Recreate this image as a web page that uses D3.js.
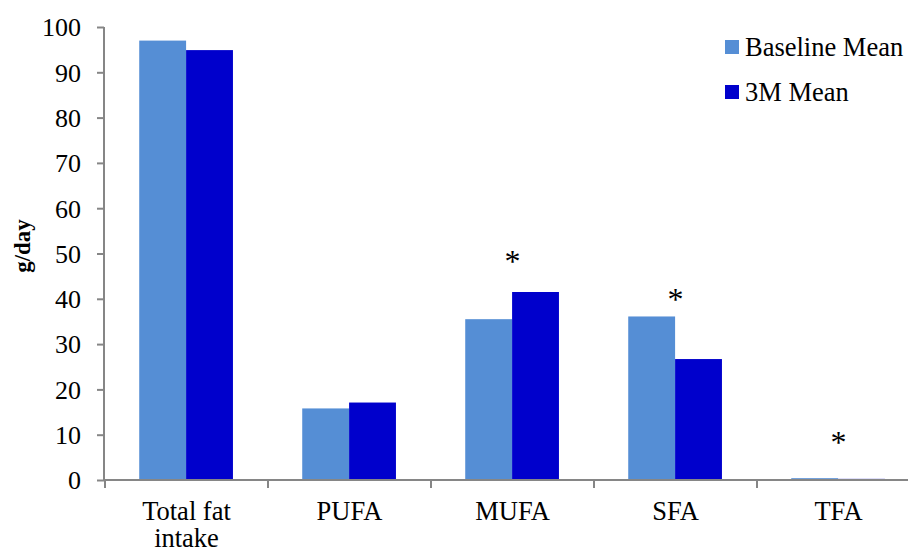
<!DOCTYPE html>
<html>
<head>
<meta charset="utf-8">
<script src="https://cdn.jsdelivr.net/npm/d3@7"></script>
<style>
  html, body { margin: 0; padding: 0; background: #fff; }
  svg { display: block; }
  text { font-family: "Liberation Serif", "Times New Roman", serif; fill: #000; }
</style>
</head>
<body>
<svg id="chart" width="908" height="552"></svg>
<script>
const categories = ["Total fat\nintake", "PUFA", "MUFA", "SFA", "TFA"];
const seriesNames = ["Baseline Mean", "3M Mean"];
const baselineMean = [97.0, 15.8, 35.5, 36.1, 0.4];
const threeMonthMean = [94.9, 17.1, 41.5, 26.7, 0.25];
const significance = [null, null, "*", "*", "*"];
const asteriskLevel = [null, null, 46.0, 37.5, 6.0];
const yTicks = [0, 10, 20, 30, 40, 50, 60, 70, 80, 90, 100];
const colors = ["#558ED5", "#0000CC"];

const svg = d3.select("#chart");
const x0 = d3.scaleBand().domain(categories).range([105, 920]).padding(0);
const bw = x0.bandwidth();
const x1 = d3.scaleBand().domain(seriesNames).range([bw * 0.21, bw * 0.785]).padding(0);
const y = d3.scaleLinear().domain([0, 100]).range([480, 27]);

const data = categories.map((c, i) => ({ cat: c, vals: [baselineMean[i], threeMonthMean[i]] }));

// bars
const groups = svg.append("g").selectAll("g").data(data).join("g")
  .attr("transform", d => `translate(${x0(d.cat)},0)`);
groups.selectAll("rect").data(d => d.vals.map((v, j) => ({ v, s: seriesNames[j], j })))
  .join("rect")
  .attr("x", d => x1(d.s))
  .attr("width", x1.bandwidth())
  .attr("y", d => y(d.v))
  .attr("height", d => y(0) - y(d.v))
  .attr("fill", d => colors[d.j]);

// y axis
const yAxis = svg.append("g").attr("transform", "translate(104,0)")
  .call(d3.axisLeft(y).tickValues(yTicks).tickSize(7).tickPadding(16).tickFormat(d3.format("d")));
yAxis.attr("font-family", null).attr("font-size", null);
yAxis.select(".domain").attr("stroke", "#868686").attr("stroke-width", 2).attr("d", `M0,${y(100)}V${y(0)}`);
yAxis.selectAll(".tick line").attr("stroke", "#868686").attr("stroke-width", 2);
yAxis.selectAll(".tick text").style("font-size", "26px").attr("dy", "0.34em");

// x axis
const xAxisG = svg.append("g").attr("transform", `translate(0,${y(0)})`);
xAxisG.append("line").attr("x1", 104).attr("x2", 908).attr("y1", 0).attr("y2", 0)
  .attr("stroke", "#868686").attr("stroke-width", 2);
const boundaries = categories.map(c => x0(c));
xAxisG.selectAll("line.tk").data(boundaries).join("line").attr("class", "tk")
  .attr("x1", d => d).attr("x2", d => d).attr("y1", 0).attr("y2", 8)
  .attr("stroke", "#868686").attr("stroke-width", 2);

// category labels
const labels = svg.append("g").selectAll("text").data(categories).join("text")
  .attr("text-anchor", "middle")
  .style("font-size", "26.5px")
  .attr("x", d => x0(d) + bw / 2)
  .attr("y", 520);
labels.each(function(d) {
  const lines = d.split("\n");
  d3.select(this).selectAll("tspan").data(lines).join("tspan")
    .attr("x", x0(d) + bw / 2)
    .attr("dy", (l, i) => i === 0 ? 0 : 27)
    .text(l => l);
});

// asterisks
svg.append("g").selectAll("text").data(categories.map((c, i) => ({ c, s: significance[i], v: asteriskLevel[i] })).filter(d => d.s))
  .join("text")
  .attr("text-anchor", "middle")
  .style("font-size", "32px")
  .attr("x", d => x0(d.c) + bw / 2)
  .attr("y", d => y(d.v))
  .text(d => d.s);

// y title
svg.append("text")
  .attr("transform", "translate(30,246) rotate(-90)")
  .attr("text-anchor", "middle")
  .style("font-size", "23px")
  .style("font-weight", "bold")
  .text("g/day");

// legend
const legend = svg.append("g").selectAll("g").data(seriesNames).join("g")
  .attr("transform", (d, i) => `translate(725,${40 + i * 45})`);
legend.append("rect").attr("width", 14).attr("height", 14).attr("fill", (d, i) => colors[i]);
legend.append("text").attr("x", 20).attr("y", 16).style("font-size", "26.5px").text(d => d);
</script>
</body>
</html>
